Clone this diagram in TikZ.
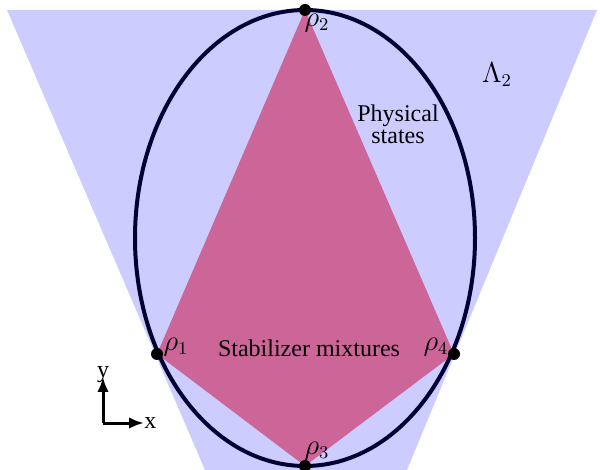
\documentclass[tikz,border=0pt]{standalone}
\usepackage{fontspec}
\setmainfont{Liberation Serif}
\usepackage{amsmath}
\usetikzlibrary{
arrows.meta,
positioning
}
\definecolor{ConeBlue}{HTML}{CCCCFF}
\definecolor{StabPink}{HTML}{CC6699}
\definecolor{EllNavy}{HTML}{000033}
\tikzset{
physdot/.style={circle, fill=black, inner sep=0pt, minimum size=6pt},
lbl/.style={font=\fontsize{12}{11}\selectfont, inner sep=1pt, align=center},
rholbl/.style={font=\fontsize{13.5}{14}\selectfont, inner sep=1pt},
axarrow/.style={-{Latex[length=2.6mm,width=2mm]}, line width=1.5pt, draw=black}
}

\begin{document}
\begin{tikzpicture}[x=0.5pt, y=-0.5pt]
\useasboundingbox (0,0) rectangle (600,470);
% cone Lambda_2
\fill[ConeBlue] (7,10) -- (597,10) -- (407,470) -- (205,470) -- cycle;
% stabilizer polytope
\fill[StabPink] (305,10) -- (157,354) -- (305,466) -- (454,354) -- cycle;
% physical states
\draw[EllNavy, line width=2pt] (305,238) ellipse [x radius=170, y radius=228];

\node[physdot] (r1) at (157,354) {};
\node[physdot] (r2) at (305,10) {};
\node[physdot] (r3) at (305,466) {};
\node[physdot] (r4) at (454,354) {};

\node[rholbl] (l1) at (176,347) {$\rho_1$};
\node[rholbl] (l2) at (317,23) {$\rho_2$};
\node[rholbl] (l3) at (317,451) {$\rho_3$};
\node[rholbl] (l4) at (436,347) {$\rho_4$};

\node[lbl] (stab) at (309,348) {Stabilizer mixtures};
\node[lbl] (phys) at (398,124) {Physical\\states};
\node[rholbl] (lam) at (497,75) {$\Lambda_2$};

% axes
\coordinate (o) at (103,423);
\coordinate (ytip) at (103,377);
\coordinate (xtip) at (144,423);
\draw[axarrow] (o) -- (ytip);
\draw[axarrow] (o) -- (xtip);
\node[lbl, above=-4pt of ytip] (ylab) {y};
\node[lbl, right=-1pt of xtip] (xlab) {x};
\end{tikzpicture}
\end{document}
